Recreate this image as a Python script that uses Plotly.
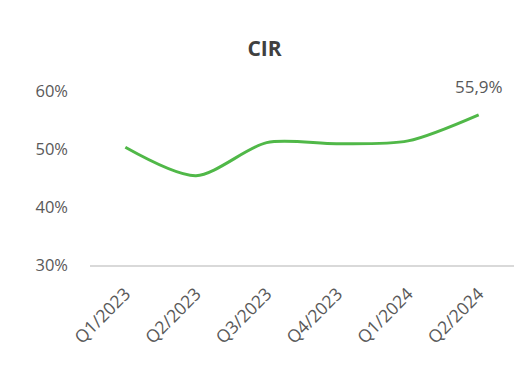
import plotly.graph_objects as go

quarters = ["Q1/2023", "Q2/2023", "Q3/2023", "Q4/2023", "Q1/2024", "Q2/2024"]
cir = [50.3, 45.4, 51.1, 50.9, 51.4, 55.9]
last_label = "55,9%"
y_ticks = [30, 40, 50, 60]
y_tick_text = ["30%", "40%", "50%", "60%"]

fig = go.Figure()
fig.add_trace(go.Scatter(
    x=quarters, y=cir, mode="lines",
    line=dict(color="#50B848", width=3, shape="spline", smoothing=0.8),
    hoverinfo="skip",
))
fig.add_annotation(x=quarters[-1], y=cir[-1], text=last_label, showarrow=False,
                   yshift=28, xshift=0, font=dict(size=17, color="#595959", family="Open Sans"))
fig.update_layout(
    width=529, height=366,
    margin=dict(l=90, r=15, t=91, b=101),
    paper_bgcolor="white", plot_bgcolor="white",
    showlegend=False,
    title=dict(text="<b>CIR</b>", x=0.5, xanchor="center", y=0.866, yanchor="middle",
               font=dict(size=21, color="#404040", family="Open Sans")),
    font=dict(family="Open Sans", color="#595959", size=16),
)
fig.update_xaxes(type="category", range=[-0.5, 5.5], tickangle=-45, showgrid=False,
                 showline=True, linecolor="#D9D9D9", linewidth=1.5, ticks="",
                 ticklabelstandoff=10,
                 tickfont=dict(size=17.5, color="#595959"))
fig.update_yaxes(range=[30, 60], tickvals=y_ticks, ticktext=y_tick_text, showgrid=False,
                 zeroline=False, showline=False, ticklabelstandoff=21,
                 tickfont=dict(size=16.5, color="#595959"))
fig.write_html("out.html")
